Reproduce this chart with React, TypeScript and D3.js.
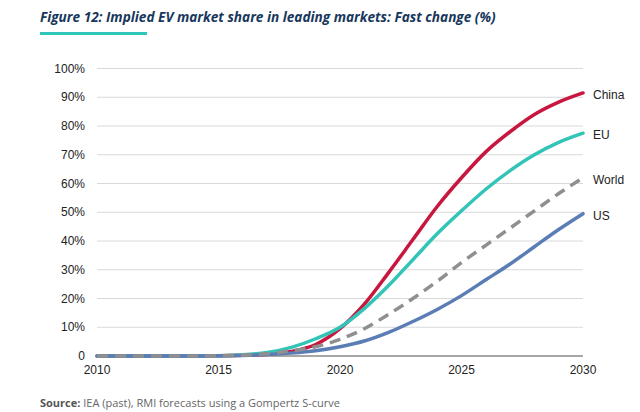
import React from "react";
import * as d3 from "d3";

const years = [2010, 2011, 2012, 2013, 2014, 2015, 2016, 2017, 2018, 2019, 2020, 2021, 2022, 2023, 2024, 2025, 2026, 2027, 2028, 2029, 2030];
const china = [0, 0, 0, 0, 0, 0.1, 0.3, 0.6, 1.6, 4, 9.5, 18, 29, 40.5, 52, 62, 71, 78, 84, 88.3, 91.5];
const eu = [0, 0, 0, 0, 0, 0.1, 0.4, 1.2, 3, 6, 10, 16.5, 24.5, 33.5, 42.5, 50.5, 58, 64.5, 70, 74.3, 77.5];
const world = [0, 0, 0, 0, 0, 0.1, 0.3, 0.8, 1.8, 3.2, 5.8, 9.5, 14.5, 20, 26, 32.5, 38.5, 44.5, 50.5, 56.5, 62];
const us = [0, 0, 0, 0, 0, 0.1, 0.2, 0.5, 1, 1.8, 3.2, 5.2, 8.2, 12, 16.2, 21, 26.5, 32, 38, 44, 49.5];
const yTicks = [0, 10, 20, 30, 40, 50, 60, 70, 80, 90, 100];
const xTicks = [2010, 2015, 2020, 2025, 2030];

const seriesList = [
  { name: "China", values: china, color: "#c8173f", dash: "" },
  { name: "EU", values: eu, color: "#33c4b8", dash: "" },
  { name: "US", values: us, color: "#5a7db6", dash: "" },
  { name: "World", values: world, color: "#8f8f8f", dash: "11,7" },
];

const labelOrder = ["China", "EU", "World", "US"];

export default function App() {
  const W = 640, H = 412;
  const x = d3.scaleLinear().domain([2010, 2030]).range([97, 583]);
  const y = d3.scaleLinear().domain([0, 100]).range([356, 68.5]);
  const line = d3
    .line<number>()
    .x((_, i) => x(years[i]))
    .y((d) => y(d))
    .curve(d3.curveMonotoneX);
  const axisFont = "'Liberation Sans', Arial, sans-serif";
  return (
    <div style={{ position: "fixed", left: 0, top: 0, width: W, height: H, background: "#fff" }}>
      <svg width={W} height={H} viewBox={`0 0 ${W} ${H}`}>
        <rect width={W} height={H} fill="#fff" />
        <text x={40} y={22} fontFamily="'Open Sans', sans-serif" fontWeight={700} fontStyle="italic" fontSize={13.6} fill="#17375c">
          Figure 12: Implied EV market share in leading markets: Fast change (%)
        </text>
        <rect x={40} y={32} width={107} height={3} fill="#2fc7bb" />
        {yTicks.map((t) => (
          <g key={t}>
            {t > 0 && <line x1={x(2010)} x2={x(2030)} y1={y(t)} y2={y(t)} stroke="#d9d9d9" strokeWidth={1} />}
            <text x={85} y={y(t)} dy="0.35em" textAnchor="end" fontFamily={axisFont} fontSize={12} fill="#222">
              {t === 0 ? "0" : `${t}%`}
            </text>
          </g>
        ))}
        <line x1={x(2010)} x2={x(2030)} y1={y(0)} y2={y(0)} stroke="#8a8a8a" strokeWidth={1.5} />
        {xTicks.map((t) => (
          <text key={t} x={x(t)} y={374} textAnchor="middle" fontFamily={axisFont} fontSize={12} fill="#222">
            {t}
          </text>
        ))}
        {seriesList.map((s) => (
          <path
            key={s.name}
            d={line(s.values) || ""}
            fill="none"
            stroke={s.color}
            strokeWidth={3.5}
            strokeDasharray={s.dash || undefined}
            strokeLinecap={s.dash ? "butt" : "round"}
          />
        ))}
        {labelOrder.map((name) => {
          const s = seriesList.find((d) => d.name === name)!;
          const v = s.values[s.values.length - 1];
          return (
            <text key={name} x={593} y={y(v) + 2} dy="0.35em" fontFamily={axisFont} fontSize={12} fill="#222">
              {name}
            </text>
          );
        })}
        <text x={40} y={407} fontFamily="'Open Sans', sans-serif" fontSize={11} fill="#666">
          <tspan fontWeight={700} fill="#555">Source:</tspan> IEA (past), RMI forecasts using a Gompertz S-curve
        </text>
      </svg>
    </div>
  );
}
